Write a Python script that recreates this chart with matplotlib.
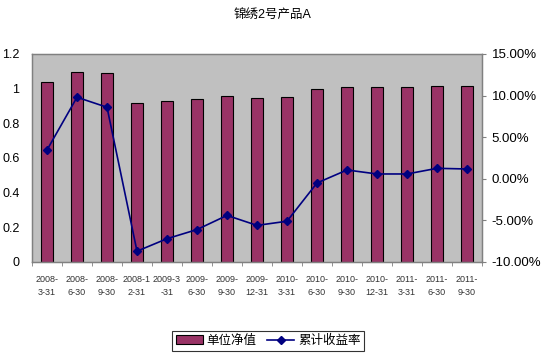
import numpy as np
import matplotlib
matplotlib.use('Agg')
import matplotlib.pyplot as plt
from matplotlib.ticker import FuncFormatter, FixedLocator

plt.rcParams['font.family'] = ['Liberation Sans', 'Noto Sans CJK SC']

# data
dates = ['2008-\n3-31', '2008-\n6-30', '2008-\n9-30', '2008-1\n2-31', '2009-3\n-31',
         '2009-\n6-30', '2009-\n9-30', '2009-\n12-31', '2010-\n3-31', '2010-\n6-30',
         '2010-\n9-30', '2010-\n12-31', '2011-\n3-31', '2011-\n6-30', '2011-\n9-30']
nav = [1.037, 1.098, 1.088, 0.916, 0.929, 0.940, 0.958, 0.944, 0.950, 0.996,
       1.010, 1.008, 1.008, 1.014, 1.014]
cum_ret = [3.46, 9.8, 8.6, -8.7, -7.2, -6.1, -4.4, -5.6, -5.1, -0.5,
           1.06, 0.58, 0.58, 1.26, 1.18]

W, H = 544, 357
fig = plt.figure(figsize=(W / 100, H / 100), dpi=100)
ax = fig.add_axes([32 / W, 1 - 262 / H, (482 - 32) / W, (262 - 54) / H])
ax.set_facecolor('#C0C0C0')

x = np.arange(len(nav))
ax.bar(x, nav, width=0.4, color='#993366', edgecolor='black', linewidth=0.8,
       label='单位净值', zorder=2)
ax.set_xlim(-0.5, len(nav) - 0.5)
ax.set_ylim(0, 1.2)
ax.set_yticks(np.arange(0, 1.21, 0.2))
ax.yaxis.set_major_formatter(FuncFormatter(lambda v, p: '0' if v == 0 else ('1' if abs(v - 1) < 1e-9 else '%g' % round(v, 1))))
ax.set_xticks(x)
ax.set_xticklabels(dates, fontsize=6.5, color='#333333', linespacing=1.6)
ax.xaxis.set_minor_locator(FixedLocator(np.arange(-0.5, len(nav), 1)))
ax.tick_params(axis='x', which='major', length=0, pad=9)
ax.tick_params(axis='x', which='minor', length=3, color='#808080', direction='out')
ax.tick_params(axis='y', labelsize=9, length=0, pad=9)
for s in ax.spines.values():
    s.set_color('#808080')
    s.set_linewidth(1)

ax2 = ax.twinx()
ax2.plot(x, cum_ret, color='#000080', marker='D', markersize=4, linewidth=1.2,
         label='累计收益率', zorder=3)
ax2.set_ylim(-10, 15)
ax2.set_yticks(np.arange(-10, 15.1, 5))
ax2.yaxis.set_major_formatter(FuncFormatter(lambda v, p: '%.2f%%' % v))
ax2.tick_params(axis='y', labelsize=9.5, length=3, color='#808080', pad=4)
for s in ax2.spines.values():
    s.set_color('#808080')

fig.text(0.5, 1 - 15 / H, '锦绣2号产品A', ha='center', va='center', fontsize=9)

h1, l1 = ax.get_legend_handles_labels()
h2, l2 = ax2.get_legend_handles_labels()
leg = fig.legend(h1 + h2, l1 + l2, loc='center', bbox_to_anchor=(268 / W, 1 - 341 / H),
                 ncol=2, fontsize=9, frameon=True, fancybox=False, handlelength=2.2,
                 handletextpad=0.3, columnspacing=0.8, borderpad=0.3)
leg.get_frame().set_edgecolor('black')
leg.get_frame().set_linewidth(0.8)

fig.savefig('out.png', dpi=100)
